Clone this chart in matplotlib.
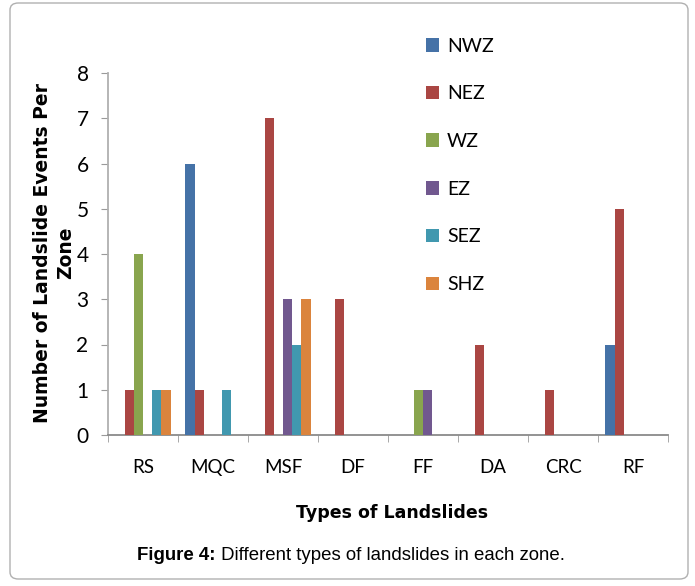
import matplotlib
matplotlib.use("Agg")
import matplotlib.pyplot as plt
import numpy as np
from matplotlib.patches import FancyBboxPatch

categories = ["RS", "MQC", "MSF", "DF", "FF", "DA", "CRC", "RF"]
zones = ["NWZ", "NEZ", "WZ", "EZ", "SEZ", "SHZ"]
NWZ = [0, 6, 0, 0, 0, 0, 0, 2]
NEZ = [1, 1, 7, 3, 0, 2, 1, 5]
WZ = [4, 0, 0, 0, 1, 0, 0, 0]
EZ = [0, 0, 3, 0, 1, 0, 0, 0]
SEZ = [1, 1, 2, 0, 0, 0, 0, 0]
SHZ = [1, 0, 3, 0, 0, 0, 0, 0]
series = [NWZ, NEZ, WZ, EZ, SEZ, SHZ]
colors = ["#4572A7", "#AA4643", "#89A54E", "#71588F", "#4198AF", "#DB843D"]
yticks = [0, 1, 2, 3, 4, 5, 6, 7, 8]

plt.rcParams['font.family'] = ['Lato', 'DejaVu Sans']

fig = plt.figure(figsize=(6.95, 5.86), dpi=100)
W, H = 695, 586

# outer rounded frame
frame = FancyBboxPatch((10 / W, 7 / H), 678 / W, 576 / H,
                       boxstyle="round,pad=0,rounding_size=0.012",
                       transform=fig.transFigure, facecolor="white",
                       edgecolor="#b0b0b0", linewidth=1.0, zorder=-10)
fig.patches.append(frame)

ax = fig.add_axes([108 / W, 1 - 435 / H, 560 / W, 362 / H])
ax.set_facecolor("none")
x = np.arange(len(categories))
bw = 0.132
for i, (vals, c, z) in enumerate(zip(series, colors, zones)):
    ax.bar(x + (i - 2.5) * bw, vals, width=bw, color=c, label=z, zorder=3)

ax.set_xlim(-0.5, len(categories) - 0.5)
ax.set_ylim(0, 8)
ax.set_yticks(yticks)
ax.set_yticklabels([str(v) for v in yticks], fontsize=15)
ax.set_xticks(x)
ax.set_xticklabels(categories, fontsize=13.5)
ax.tick_params(axis='x', which='major', length=0, pad=17)
ax.set_xticks(np.arange(-0.5, len(categories), 1.0), minor=True)
ax.tick_params(axis='x', which='minor', length=5, color="#9a9a9a", direction='out')
ax.tick_params(axis='y', length=5, color="#9a9a9a", direction='out', pad=9)
for s in ["top", "right"]:
    ax.spines[s].set_visible(False)
ax.spines["left"].set_color("#b0b0b0")
ax.spines["bottom"].set_color("#8a8a8a")
ax.spines["left"].set_linewidth(1.3)
ax.spines["bottom"].set_linewidth(1.3)

fig.text(54 / W, 1 - 253 / H, "Number of Landslide Events Per\nZone",
         rotation=90, ha="center", va="center", fontsize=13.5,
         fontweight="bold", family=['DejaVu Sans'], linespacing=1.25)

fig.text(392 / W, 1 - 513 / H, "Types of Landslides", ha="center",
         va="center", fontsize=12.5, fontweight="bold", family=['DejaVu Sans'])

leg = fig.legend(loc="upper left", bbox_to_anchor=(408 / W, 1 - 20 / H),
                 frameon=False, fontsize=14, labelspacing=1.58,
                 handlelength=0.7, handleheight=0.7, handletextpad=0.4)

t1 = fig.text(137 / W, 1 - 555 / H, "Figure 4:", ha="left", va="center",
              fontsize=13.4, fontweight="bold", family=['Liberation Sans'])
fig.canvas.draw()
ax.annotate(" Different types of landslides in each zone.", xy=(1, 0),
            xycoords=t1, va="bottom", ha="left", fontsize=13.4,
            family=['Liberation Sans'])

fig.savefig("out.png", dpi=100)
